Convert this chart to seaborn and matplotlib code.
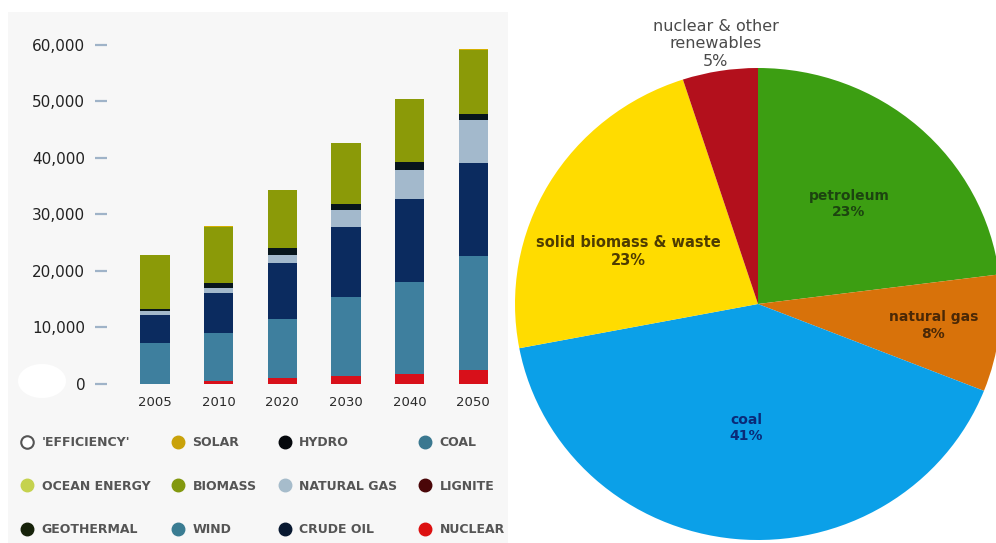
import matplotlib
matplotlib.use("Agg")
import matplotlib.pyplot as plt
import seaborn as sns
import numpy as np
from matplotlib.patches import Rectangle, Ellipse
from matplotlib.lines import Line2D
from matplotlib.ticker import FuncFormatter

# ---------------- data ----------------
years = ["2005", "2010", "2020", "2030", "2040", "2050"]
nuclear = [0, 500, 1000, 1500, 1800, 2400]
coal = [7200, 8600, 10500, 13900, 16300, 20200]
crude_oil = [5000, 7000, 9900, 12300, 14700, 16500]
natural_gas = [800, 900, 1500, 3100, 5100, 7600]
hydro = [300, 900, 1200, 1100, 1400, 1100]
biomass = [9600, 9900, 10300, 10800, 11200, 11300]
solar = [0, 100, 0, 0, 0, 200]

y_ticks = [0, 10000, 20000, 30000, 40000, 50000, 60000]

legend_labels = ["'EFFICIENCY'", "SOLAR", "HYDRO", "COAL",
                 "OCEAN ENERGY", "BIOMASS", "NATURAL GAS", "LIGNITE",
                 "GEOTHERMAL", "WIND", "CRUDE OIL", "NUCLEAR"]
legend_colors = ["white", "#c9a20a", "#05080c", "#3a7890",
                 "#c5d24e", "#82980e", "#a6bccb", "#4a0608",
                 "#16220a", "#3a7c92", "#081830", "#dc1010"]

pie_labels = ["petroleum", "natural gas", "coal",
              "solid biomass & waste", "nuclear & other\nrenewables"]
pie_shares = [23, 8, 41, 23, 5]

# ---------------- styling ----------------
sns.set_style("white")
plt.rcParams["font.family"] = ["DejaVu Sans"]

W, H = 996, 543
fig = plt.figure(figsize=(W / 100, H / 100), dpi=100)
fig.patch.set_facecolor("white")

# left panel background
fig.patches.append(Rectangle((8 / W, 0), 500 / W, (H - 12) / H,
                             transform=fig.transFigure, facecolor="#f7f7f7",
                             edgecolor="none", zorder=-5))
fig.patches.append(Ellipse((42 / W, (H - 381) / H), 48 / W, 34 / H,
                           transform=fig.transFigure, facecolor="white",
                           edgecolor="none", zorder=-4))

# ---------------- stacked bar chart ----------------
ax = fig.add_axes([107 / W, (H - 384) / H, 398 / W, (384 - 39.3) / H])
ax.set_facecolor("none")
ax.set_zorder(2)

layers = [nuclear, coal, crude_oil, natural_gas, hydro, biomass, solar]
layer_colors = ["#d8101a", "#3e7f9e", "#0b2b5f", "#a3b9cc", "#07151c",
                "#8b9a08", "#d4b000"]
cum = np.cumsum(np.array(layers, dtype=float), axis=0)
for i in range(len(layers) - 1, -1, -1):
    sns.barplot(x=years, y=cum[i], color=layer_colors[i], width=0.46,
                saturation=1, linewidth=0, errorbar=None, ax=ax)

ax.set_xlim(-0.755, 5.5)
ax.set_ylim(0, 61000)
ax.set_yticks(y_ticks)
ax.yaxis.set_major_formatter(FuncFormatter(lambda v, p: f"{int(v):,}"))
for s in ax.spines.values():
    s.set_visible(False)
ax.tick_params(axis="y", left=True, length=8.6, width=1.6, color="#9fb3c8",
               pad=7, labelsize=11, labelcolor="#222222")
ax.tick_params(axis="x", bottom=False, length=0, pad=9, labelsize=9.5,
               labelcolor="#2a2a2a")
ax.set_xlabel("")
ax.set_ylabel("")
ax.grid(False)

# legend (column-major ordering for matplotlib)
handles = []
for col in range(4):
    for row in range(3):
        k = row * 4 + col
        c = legend_colors[k]
        if k == 0:
            h = Line2D([], [], marker="o", linestyle="none", markersize=9,
                       markerfacecolor="white", markeredgecolor="#555555",
                       markeredgewidth=1.5, label=legend_labels[k])
        else:
            h = Line2D([], [], marker="o", linestyle="none", markersize=9,
                       markerfacecolor=c, markeredgecolor=c,
                       label=legend_labels[k])
        handles.append(h)
fig.legend(handles=handles, loc="upper left",
           bbox_to_anchor=(21 / W, (H - 436) / H), ncol=4, frameon=False,
           borderpad=0, borderaxespad=0, handlelength=1.0, handletextpad=0.64,
           columnspacing=1.75, labelspacing=2.45,
           prop={"size": 9, "weight": "bold"}, labelcolor="#555555")

# ---------------- pie chart ----------------
cx, cy, rx, ry = 758, 304, 243, 236
ax2 = fig.add_axes([(cx - rx * 1.02) / W, (H - cy - ry * 1.02) / H,
                    2 * rx * 1.02 / W, 2 * ry * 1.02 / H])
pie_colors = ["#3c9e12", "#d8720a", "#0ba0e8", "#ffdc00", "#b3101c"]
wedges, _ = ax2.pie(pie_shares, colors=pie_colors, startangle=90,
                    counterclock=False, wedgeprops=dict(linewidth=0))
ax2.set_xlim(-1.02, 1.02)
ax2.set_ylim(-1.02, 1.02)
ax2.set_aspect("auto")

label_dist = [0.566, 0.727, 0.527, 0.578, 1.117]
label_shift = [0, 0, 0, 8, 0]
label_colors = ["#1c4410", "#4a2806", "#0a2a78", "#4e3c00", "#4a4a4a"]
label_weight = ["bold", "bold", "bold", "bold", "normal"]
label_size = [10, 10, 10, 10.5, 11.5]
for w, lab, share, d, sh, lc, fw, fs in zip(wedges, pie_labels, pie_shares,
                                            label_dist, label_shift,
                                            label_colors, label_weight,
                                            label_size):
    ang = np.deg2rad((w.theta1 + w.theta2) / 2 + sh)
    ax2.text(d * np.cos(ang), d * np.sin(ang), f"{lab}\n{share}%",
             ha="center", va="center", fontsize=fs, color=lc,
             fontweight=fw, linespacing=1.2, zorder=5)

fig.savefig("out.png", dpi=100, facecolor="white")
